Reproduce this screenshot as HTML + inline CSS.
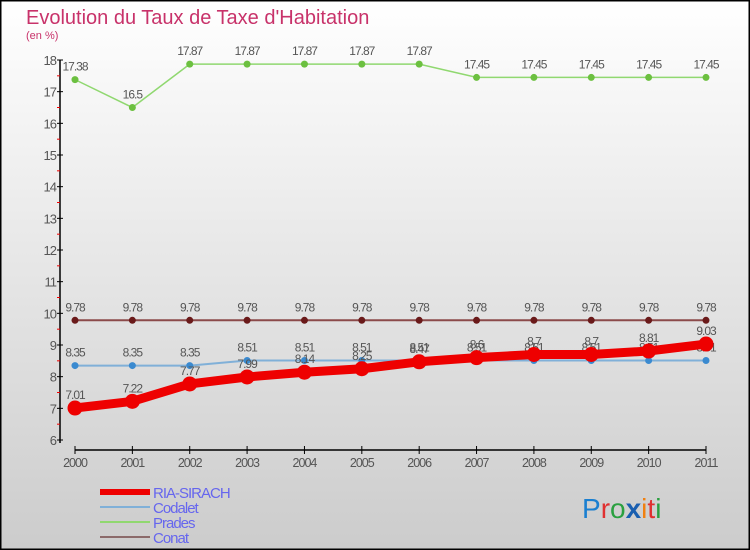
<!DOCTYPE html>
<html><head><meta charset="utf-8"><style>
body{margin:0;}
#c{width:750px;height:550px;position:relative;overflow:hidden;font-family:"Liberation Sans","DejaVu Sans",sans-serif;}
</style></head><body>
<div id="c">
<svg width="750" height="550" xmlns="http://www.w3.org/2000/svg" id="svg">
<defs><linearGradient id="bg" x1="0" y1="0" x2="0" y2="1"><stop offset="0" stop-color="#ffffff"/><stop offset="1" stop-color="#cccccc"/></linearGradient></defs>
<rect x="0.5" y="0.5" width="749" height="549" fill="url(#bg)" stroke="#000" stroke-width="2"/>
<text x="26" y="24" font-size="20" fill="#c8326a">Evolution du Taux de Taxe d'Habitation</text>
<text x="26" y="39" font-size="11" fill="#c8326a">(en %)</text>
<g id="axes"></g><g id="series"></g><g id="legend"></g>
<text x="582" y="518" font-size="28" font-family="Liberation Sans,sans-serif"><tspan fill="#1a7fd0">P</tspan><tspan fill="#e03030">r</tspan><tspan fill="#2aa040">o</tspan><tspan fill="#1a5fb0" font-weight="bold">x</tspan><tspan fill="#f08010">i</tspan><tspan fill="#e03030">t</tspan><tspan fill="#2aa040">i</tspan></text>
</svg>
</div>
<script>
const years=[2000,2001,2002,2003,2004,2005,2006,2007,2008,2009,2010,2011];
const yTicks=[6,7,8,9,10,11,12,13,14,15,16,17,18];
const ria=[7.01,7.22,7.77,7.99,8.14,8.25,8.47,8.6,8.7,8.7,8.81,9.03];
const codalet=[8.35,8.35,8.35,8.51,8.51,8.51,8.51,8.51,8.51,8.51,8.51,8.51];
const prades=[17.38,16.5,17.87,17.87,17.87,17.87,17.87,17.45,17.45,17.45,17.45,17.45];
const conat=[9.78,9.78,9.78,9.78,9.78,9.78,9.78,9.78,9.78,9.78,9.78,9.78];
const NS="http://www.w3.org/2000/svg";
const X=i=>75+i*(631/11);
const Y=v=>440-(v-6)*(380/12);
function mk(tag,attrs,parent){const e=document.createElementNS(NS,tag);for(const k in attrs)e.setAttribute(k,attrs[k]);parent.appendChild(e);return e;}
const ax=document.getElementById('axes');
let l=mk('line',{x1:60,y1:Y(18),x2:60,y2:Y(6)+3,stroke:'#000','stroke-width':1.5},ax);


l=mk('line',{x1:X(0),y1:450,x2:X(11),y2:450,stroke:'#000','stroke-width':1.5},ax);


yTicks.forEach((t,i)=>{
 mk('line',{x1:57,y1:Y(t),x2:63,y2:Y(t),stroke:'#000'},ax);
 if(i<yTicks.length-1)mk('line',{x1:57,y1:Y(t+0.5),x2:60,y2:Y(t+0.5),stroke:'#e00'},ax);
 const tx=mk('text',{x:56,y:Y(t)+5,'font-size':13,fill:'#555','text-anchor':'end','letter-spacing':'-1'},ax);
 tx.textContent=t;
 
 
});
years.forEach((yr,i)=>{
 mk('line',{x1:X(i),y1:446,x2:X(i),y2:454,stroke:'#000'},ax);
 const tx=mk('text',{x:X(i),y:467,'font-size':12.5,fill:'#555','text-anchor':'middle','letter-spacing':'-1'},ax);
 tx.textContent=yr;
 
 
});
const sg=document.getElementById('series');
function series(vals,name,color,pcolor,w,r){
 const g=mk('g',{},sg);
 
 
 const p=mk('polyline',{points:vals.map((v,i)=>X(i)+','+Y(v)).join(' '),fill:'none',stroke:color,'stroke-width':w,'stroke-linejoin':'round'},g);
 
 
 vals.forEach((v,i)=>{
  const c=mk('circle',{cx:X(i),cy:Y(v),r:r,fill:pcolor},g);
  
  
  const t=mk('text',{x:X(i),y:Y(v)-9,'font-size':12,fill:'#555','text-anchor':'middle','letter-spacing':'-1'},g);
  t.textContent=v;
  
  
 });
}
series(conat,'conat','#8b4a4a','#6a1a1a',2,3.5);
series(prades,'prades','#90d870','#6cc040',1.5,3.5);
series(codalet,'codalet','#80b0d8','#3a8ad0',2,3.5);
series(ria,'ria-sirach','#ee0000','#ee0000',9,7.5);
const lg=document.getElementById('legend');
[['RIA-SIRACH','#ee0000',6],['Codalet','#80b0d8',2],['Prades','#90d870',2],['Conat','#8b6a6a',2]].forEach((e,i)=>{
 const y=492+i*15;
 const ln=mk('line',{x1:100,y1:y,x2:150,y2:y,stroke:e[1],'stroke-width':e[2]},lg);
 
 
 const t=mk('text',{x:153,y:y+6,'font-size':15,fill:'#6666ee','letter-spacing':'-1'},lg);
 t.textContent=e[0];
 
 
});
</script>
</body></html>
